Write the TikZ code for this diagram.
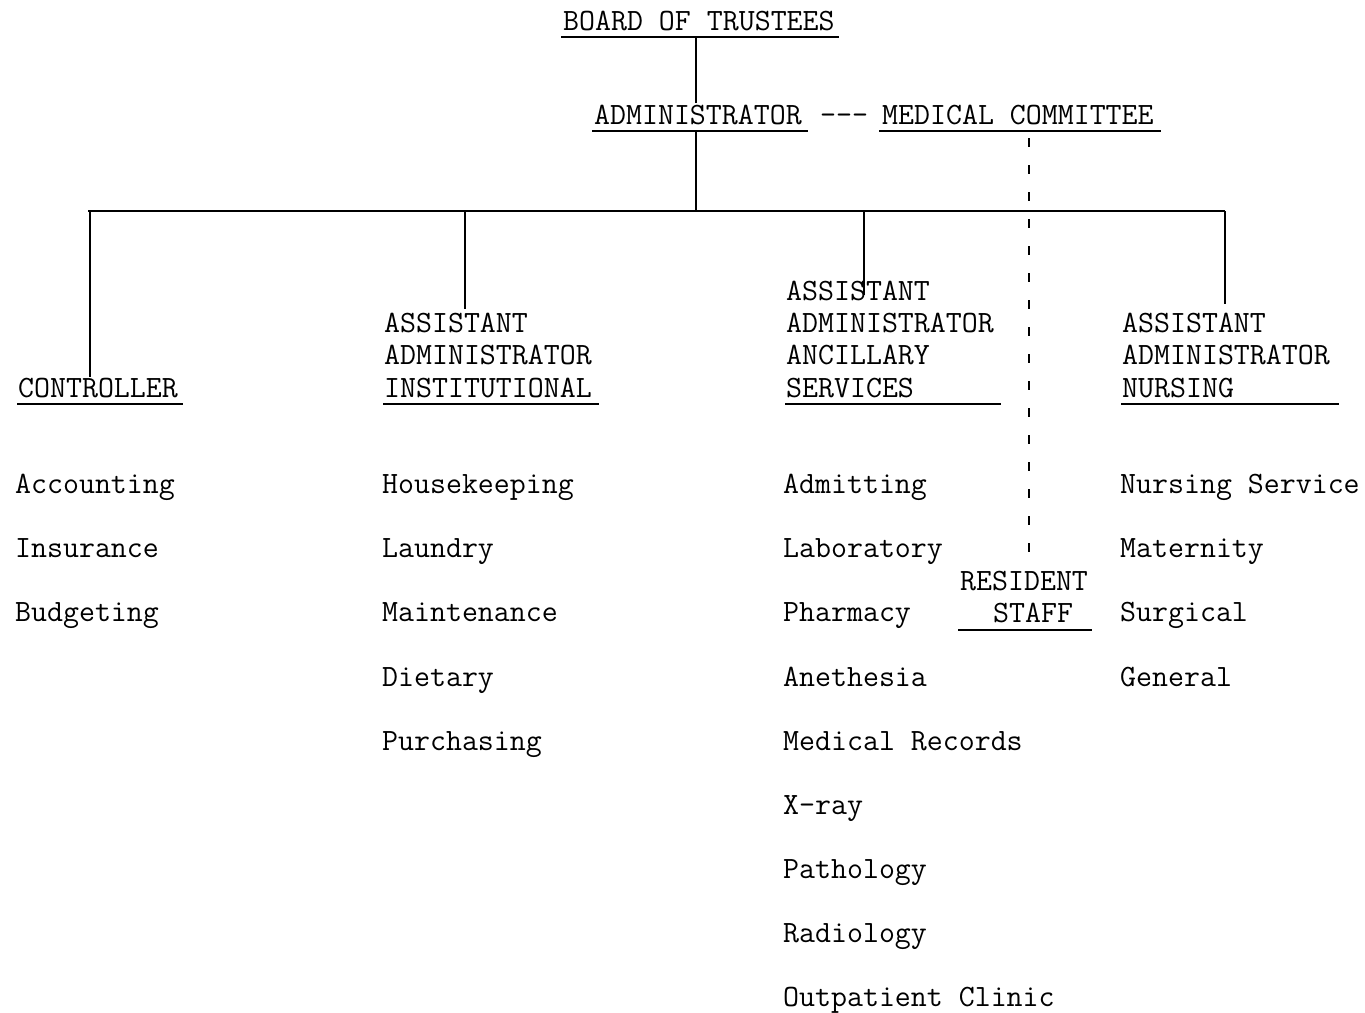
\documentclass[tikz,border=0pt]{standalone}
\usepackage{fontspec}
\usetikzlibrary{calc}
\begin{document}
\begin{tikzpicture}[x=1pt,y=-1pt,
  every node/.style={inner sep=0pt, anchor=base west,
    font=\ttfamily\fontsize{31}{32}\selectfont\addfontfeatures{FakeBold=0.8}},
  rule/.style={line width=1.9pt},
  link/.style={line width=1.9pt},
  advisory/.style={line width=1.5pt, dash pattern=on 9pt off 18pt}]
\useasboundingbox (0,0) rectangle (1365,1012);

% top of the chart
\node (board) at (563,30) {BOARD OF TRUSTEES};
\node (admin) at (594,124) {ADMINISTRATOR};
\node (dash)  at (820,124) {---};
\node (med)   at (882,124) {MEDICAL COMMITTEE};
\draw[rule] (561,37) -- (839,37);
\draw[rule] (592,131) -- (808,131);
\draw[rule] (879,131) -- (1161,131);

% department heads
\node (ctl)  at (18,397)   {CONTROLLER};
\node (ins1) at (384,332)  {ASSISTANT};
\node (ins2) at (384,364.5){ADMINISTRATOR};
\node (ins3) at (384,397)  {INSTITUTIONAL};
\node (anc1) at (786,300)  {ASSISTANT};
\node (anc2) at (786,332)  {ADMINISTRATOR};
\node (anc3) at (786,364.5){ANCILLARY};
\node (anc4) at (786,397)  {SERVICES};
\node (nur1) at (1122,332) {ASSISTANT};
\node (nur2) at (1122,364.5){ADMINISTRATOR};
\node (nur3) at (1122,397) {NURSING};
\draw[rule] (17,404) -- (183,404);
\draw[rule] (383,404) -- (599,404);
\draw[rule] (785,404) -- (1001,404);
\draw[rule] (1121,404) -- (1339,404);

\node (res1) at (960,590) {RESIDENT};
\node (res2) at (993,622) {STAFF};
\draw[rule] (958,630) -- (1092,630);

% sections under each head
\node (c1) at (15,493) {Accounting};
\node (c2) at (15,557) {Insurance};
\node (c3) at (15,621) {Budgeting};

\node (i1) at (382,493) {Housekeeping};
\node (i2) at (382,557) {Laundry};
\node (i3) at (382,621) {Maintenance};
\node (i4) at (382,686) {Dietary};
\node (i5) at (382,750) {Purchasing};

\node (a1) at (783,493)  {Admitting};
\node (a2) at (783,557)  {Laboratory};
\node (a3) at (783,621)  {Pharmacy};
\node (a4) at (783,686)  {Anethesia};
\node (a5) at (783,750)  {Medical Records};
\node (a6) at (783,814)  {X-ray};
\node (a7) at (783,878)  {Pathology};
\node (a8) at (783,942)  {Radiology};
\node (a9) at (783,1006) {Outpatient Clinic};

\node (n1) at (1120,493) {Nursing Service};
\node (n2) at (1120,557) {Maternity};
\node (n3) at (1120,621) {Surgical};
\node (n4) at (1120,686) {General};

% line of authority
\coordinate (tapC) at (90,211);
\coordinate (tapI) at (465,211);
\coordinate (tapT) at (696,211);
\coordinate (tapA) at (864,211);
\coordinate (tapN) at (1225,211);
\coordinate (busL) at (88,211);

\draw[link] ($(tapT |- board.base)+(0,7)$) -- ($(tapT |- admin.base)+(0,-21)$);
\draw[link] ($(tapT |- admin.base)+(0,7)$) -- (tapT);
\draw[link] (busL) -- (tapN);
\draw[link] (tapC) -- (tapC |- ctl.north);
\draw[link] (tapI) -- ($(tapI |- ins1.north)+(0,-3)$);
\draw[link] (tapA) -- ($(tapA |- anc1.base)+(0,-5)$);
\draw[link] (tapN) -- ($(tapN |- nur1.north)+(0,-8)$);

% advisory link from the medical committee
\coordinate (staffx) at (1029,0);
\draw[advisory] ($(staffx |- med.base)+(0,14)$) -- ($(staffx |- res1.north)+(0,-6)$);
\end{tikzpicture}
\end{document}
